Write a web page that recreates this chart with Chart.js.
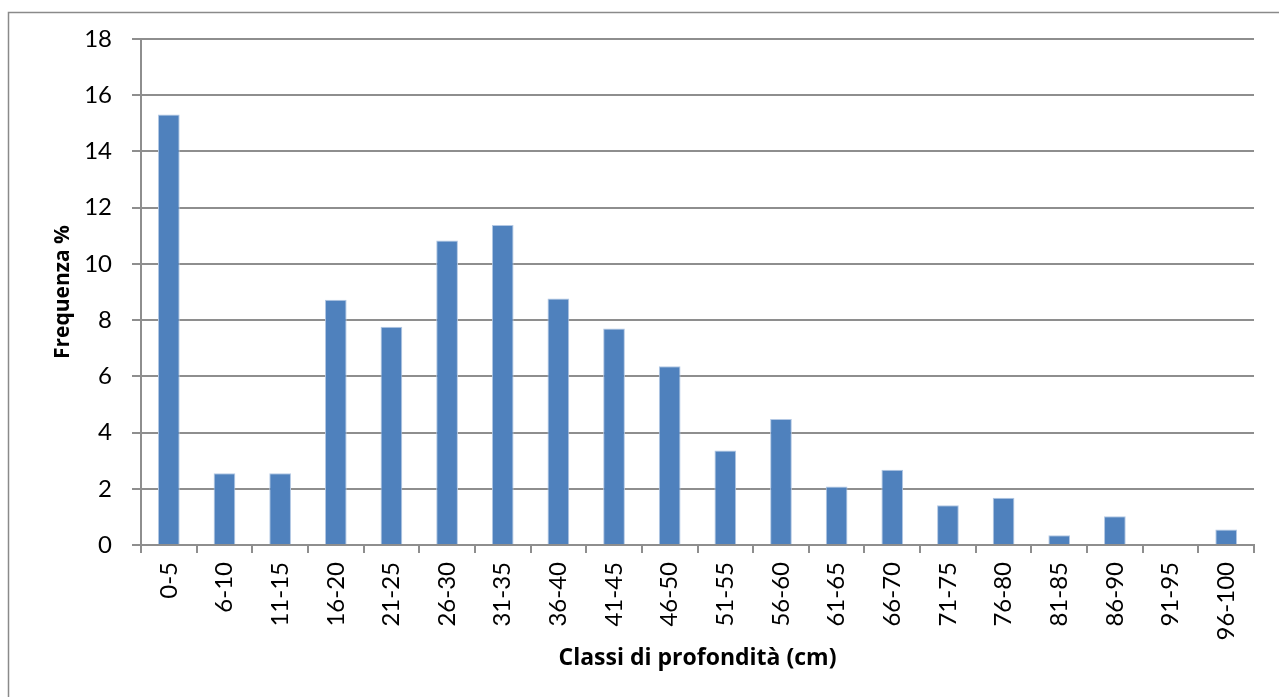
<!DOCTYPE html>
<html>
<head>
<meta charset="utf-8">
<script src="https://cdn.jsdelivr.net/npm/chart.js@4/dist/chart.umd.min.js"></script>
<style>
  html, body { margin: 0; padding: 0; background: #ffffff; }
  #wrap { width: 1279px; height: 697px; position: relative; }
</style>
</head>
<body>
<div id="wrap"><canvas id="chart" width="1279" height="697"></canvas></div>
<script>
// Depth classes (cm) and their relative frequency (%)
const categories = ['0-5', '6-10', '11-15', '16-20', '21-25', '26-30', '31-35', '36-40', '41-45', '46-50',
                    '51-55', '56-60', '61-65', '66-70', '71-75', '76-80', '81-85', '86-90', '91-95', '96-100'];
const frequenza = [15.31, 2.55, 2.55, 8.72, 7.76, 10.83, 11.38, 8.77, 7.70, 6.36,
                   3.36, 4.48, 2.08, 2.68, 1.41, 1.68, 0.35, 1.02, 0, 0.55];
const yTicks = [0, 2, 4, 6, 8, 10, 12, 14, 16, 18];

const TICK_FONT = 'Lato, "Open Sans", "Liberation Sans", sans-serif';
const TITLE_FONT = '"Open Sans", Lato, "Liberation Sans", sans-serif';
const AXIS_GREY = '#8e8e8e';

// Grey frame around the chart object
const frame = {
  id: 'frame',
  beforeDraw(chart) {
    const ctx = chart.ctx;
    ctx.save();
    ctx.fillStyle = '#ffffff';
    ctx.fillRect(0, 0, chart.width, chart.height);
    ctx.strokeStyle = '#8a8a8a';
    ctx.lineWidth = 1.5;
    ctx.strokeRect(8.5, 12.5, 1400, 1000);
    ctx.restore();
  }
};

new Chart(document.getElementById('chart'), {
  type: 'bar',
  data: {
    labels: categories,
    datasets: [{
      label: 'Frequenza %',
      data: frequenza,
      backgroundColor: '#4f81bd',
      borderColor: '#b3c8e4',
      borderWidth: 1,
      categoryPercentage: 1.0,
      barPercentage: 0.39
    }]
  },
  options: {
    responsive: false,
    animation: false,
    events: [],
    layout: { padding: { left: 50, top: 39, right: 25, bottom: 25 } },
    plugins: {
      legend: { display: false },
      tooltip: { enabled: false }
    },
    scales: {
      x: {
        type: 'category',
        offset: true,
        afterFit(scale) { scale.height = 127; },
        grid: {
          offset: true,
          drawOnChartArea: false,
          drawTicks: true,
          tickLength: 8,
          color: AXIS_GREY,
          lineWidth: 2
        },
        border: { display: true, color: AXIS_GREY, width: 2 },
        ticks: {
          autoSkip: false,
          minRotation: 90,
          maxRotation: 90,
          padding: 9,
          color: '#000000',
          font: { family: TICK_FONT, size: 24 }
        },
        title: {
          display: true,
          text: 'Classi di profondità (cm)',
          color: '#000000',
          padding: { top: 0, bottom: 0 },
          font: { family: TITLE_FONT, size: 23, weight: 'bold' }
        }
      },
      y: {
        min: 0,
        max: 18,
        afterFit(scale) { scale.width = 91; },
        afterBuildTicks(scale) { scale.ticks = yTicks.map(v => ({ value: v })); },
        grid: {
          drawOnChartArea: true,
          drawTicks: true,
          tickLength: 9,
          color: AXIS_GREY,
          lineWidth: 2
        },
        border: { display: true, color: AXIS_GREY, width: 2 },
        ticks: {
          padding: 20,
          color: '#000000',
          font: { family: TICK_FONT, size: 24 }
        },
        title: {
          display: true,
          text: 'Frequenza %',
          color: '#000000',
          padding: { top: 0, bottom: 0 },
          font: { family: TITLE_FONT, size: 21, weight: 'bold' }
        }
      }
    }
  },
  plugins: [frame]
});
</script>
</body>
</html>
